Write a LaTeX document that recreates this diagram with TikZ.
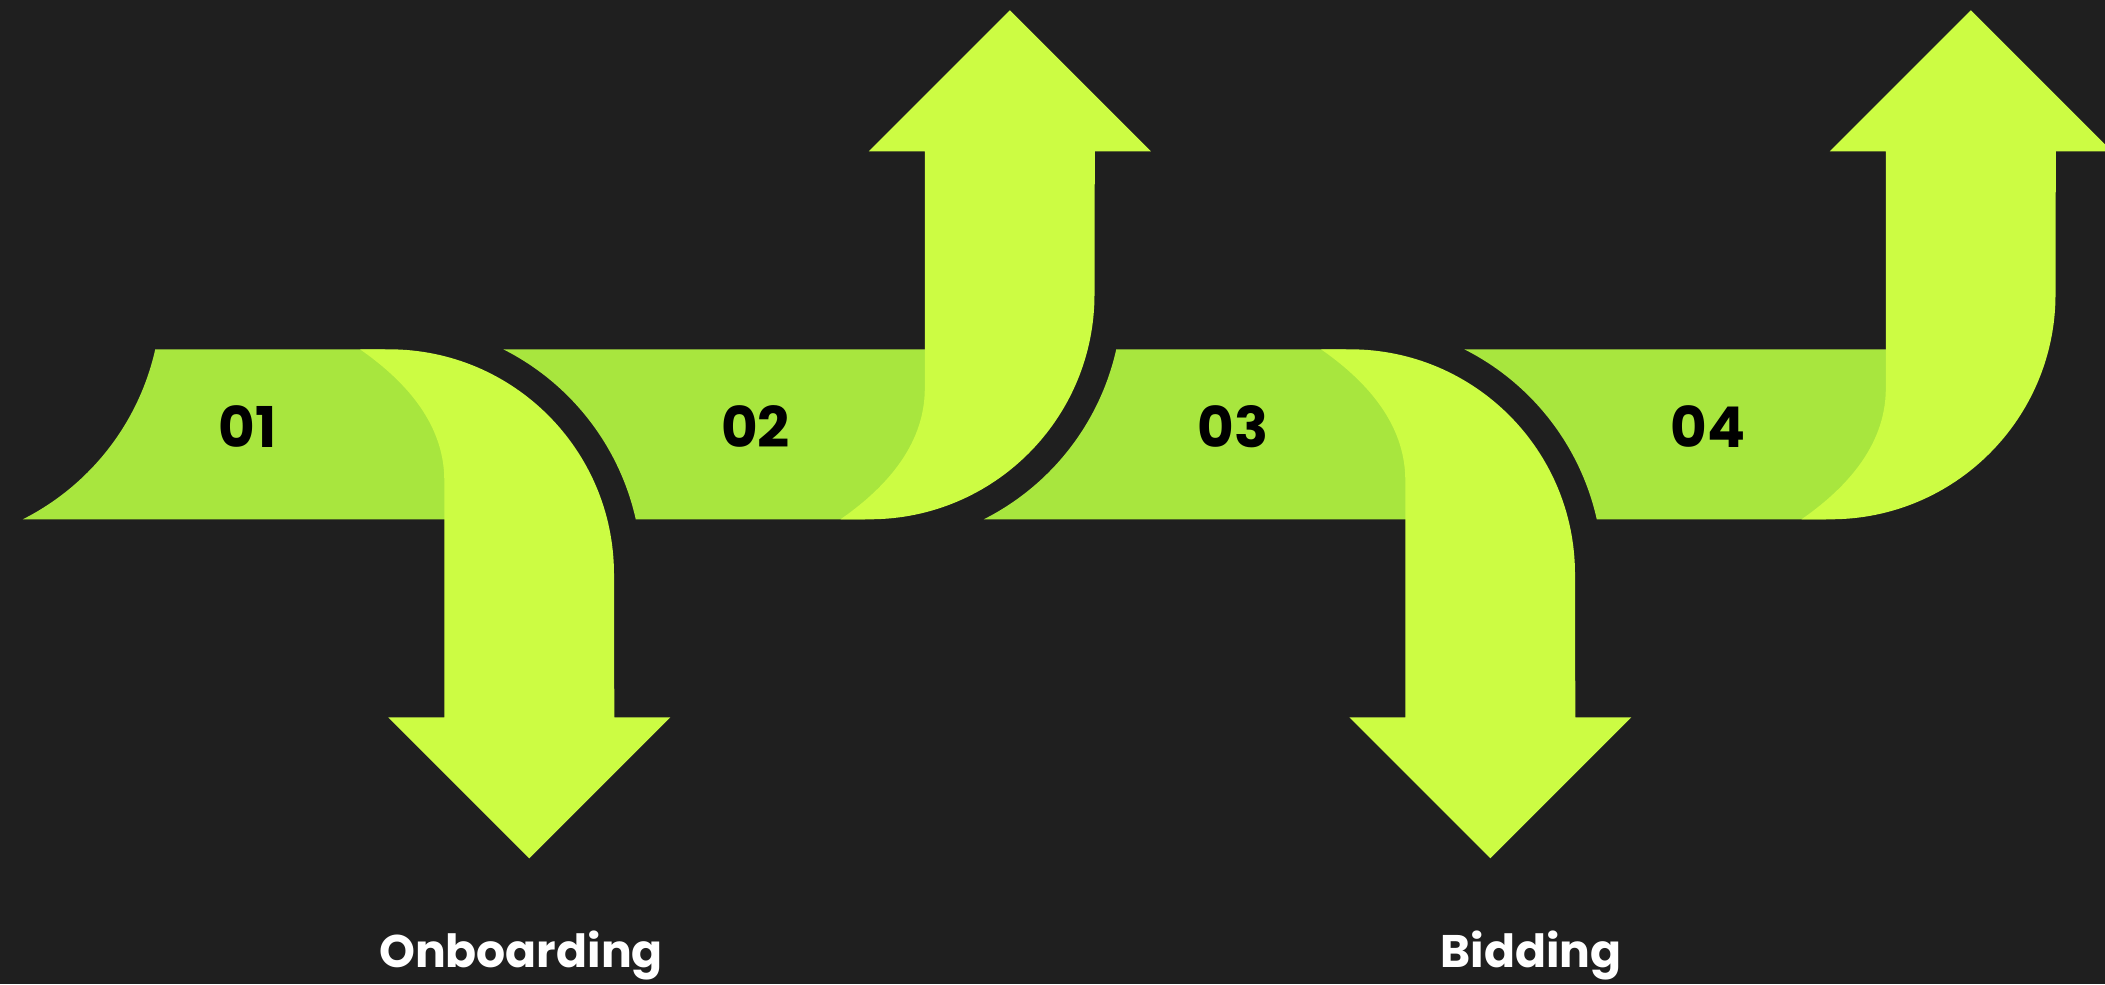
\documentclass[tikz,border=0pt]{standalone}
\usepackage{fontspec}
\setmainfont{Poppins}
\definecolor{bg}{HTML}{1F1F1F}
\definecolor{band}{HTML}{A8E63E}
\definecolor{lime}{HTML}{CCFC43}

\begin{document}
\begin{tikzpicture}[
	seg/.style={fill=band},
	arr/.style={fill=lime},
	num/.style={font=\bfseries\fontsize{16}{16}\selectfont, text=black, inner sep=0pt},
	lbl/.style={font=\bfseries\fontsize{13}{14}\selectfont, text=white, inner sep=0pt, anchor=base}
	]
	
	% Background
	\fill[bg] (0,-5.497) rectangle (21.05,4.343);
	\clip (0,-5.497) rectangle (21.05,4.343);
	
	% Step 1 (down)
	\begin{scope}[shift={(4.443,0)}]
	\fill[seg] (-4.215,-0.85) arc[start angle=-63.24, end angle=-12.61, radius=2.52] -- (-0.6,0.85) -- (0.6,0.2) -- (0.6,-0.85) -- cycle;
	\fill[arr] (-0.843,0.85) -- (-0.553,0.85) arc[start angle=90, end angle=0, radius=2.25] -- (1.7,-2.83) -- (2.26,-2.83) -- (0.85,-4.24) -- (-0.56,-2.83) -- (0,-2.83) -- (0,-0.46) .. controls (0,0.14) and (-0.44,0.57) .. (-0.843,0.85) -- cycle;
	\end{scope}
	
	% Step 2 (up)
	\begin{scope}[shift={(9.248,0)}, yscale=-1]
	\fill[seg] (-4.215,-0.85) arc[start angle=-63.24, end angle=-12.61, radius=2.52] -- (-0.6,0.85) -- (0.6,0.2) -- (0.6,-0.85) -- cycle;
	\fill[arr] (-0.843,0.85) -- (-0.553,0.85) arc[start angle=90, end angle=0, radius=2.25] -- (1.7,-2.83) -- (2.26,-2.83) -- (0.85,-4.24) -- (-0.56,-2.83) -- (0,-2.83) -- (0,-0.46) .. controls (0,0.14) and (-0.44,0.57) .. (-0.843,0.85) -- cycle;
	\end{scope}
	
	% Step 3 (down)
	\begin{scope}[shift={(14.053,0)}]
	\fill[seg] (-4.215,-0.85) arc[start angle=-63.24, end angle=-12.61, radius=2.52] -- (-0.6,0.85) -- (0.6,0.2) -- (0.6,-0.85) -- cycle;
	\fill[arr] (-0.843,0.85) -- (-0.553,0.85) arc[start angle=90, end angle=0, radius=2.25] -- (1.7,-2.83) -- (2.26,-2.83) -- (0.85,-4.24) -- (-0.56,-2.83) -- (0,-2.83) -- (0,-0.46) .. controls (0,0.14) and (-0.44,0.57) .. (-0.843,0.85) -- cycle;
	\end{scope}
	
	% Step 4 (up)
	\begin{scope}[shift={(18.858,0)}, yscale=-1]
	\fill[seg] (-4.215,-0.85) arc[start angle=-63.24, end angle=-12.61, radius=2.52] -- (-0.6,0.85) -- (0.6,0.2) -- (0.6,-0.85) -- cycle;
	\fill[arr] (-0.843,0.85) -- (-0.553,0.85) arc[start angle=90, end angle=0, radius=2.25] -- (1.7,-2.83) -- (2.26,-2.83) -- (0.85,-4.24) -- (-0.56,-2.83) -- (0,-2.83) -- (0,-0.46) .. controls (0,0.14) and (-0.44,0.57) .. (-0.843,0.85) -- cycle;
	\end{scope}
	
	% Numbers
	\node[num] (n01) at (2.475,0.076) {01};
	\node[num] (n02) at (7.555,0.076) {02};
	\node[num] (n03) at (12.33,0.076) {03};
	\node[num] (n04) at (17.08,0.076) {04};
	
	% Labels
	\node[lbl] (onboarding) at (5.21,-5.33) {Onboarding};
	\node[lbl] (bidding) at (15.31,-5.33) {Bidding};
	
\end{tikzpicture}
\end{document}
